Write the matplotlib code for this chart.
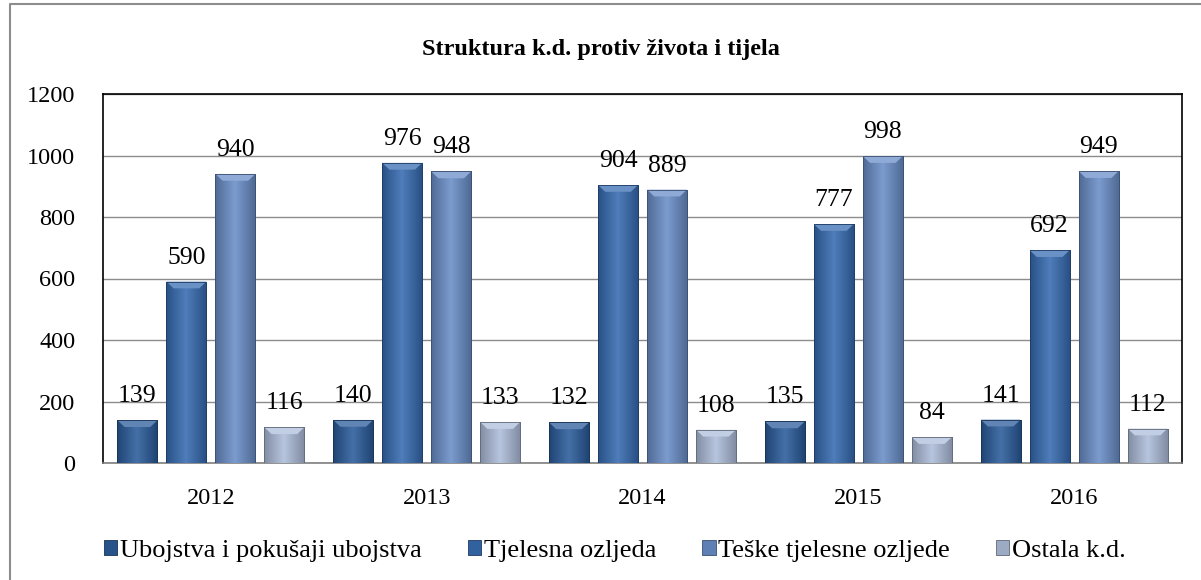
import matplotlib
matplotlib.use("Agg")
import matplotlib.pyplot as plt
import numpy as np
from matplotlib.colors import to_rgb
from matplotlib.patches import Rectangle
from matplotlib.lines import Line2D

plt.rcParams['font.family'] = ['Liberation Serif', 'DejaVu Serif']

years = ['2012', '2013', '2014', '2015', '2016']
series_names = ['Ubojstva i pokušaji ubojstva', 'Tjelesna ozljeda',
                'Teške tjelesne ozljede', 'Ostala k.d.']
ubojstva = [139, 140, 132, 135, 141]
tjelesna = [590, 976, 904, 777, 692]
teske = [940, 948, 889, 998, 949]
ostala = [116, 133, 108, 84, 112]
colors = ['#2b5c9b', '#376cb2', '#6a8ec8', '#aebdda']
yticks = [0, 200, 400, 600, 800, 1000, 1200]

fig = plt.figure(figsize=(12.01, 5.80), dpi=100)
L, R, T, B = 103, 1182, 94, 463
ax = fig.add_axes([L / 1201, 1 - B / 580, (R - L) / 1201, (B - T) / 580])

x = np.arange(len(years))
slot = 0.227
width = 0.185
all_series = [ubojstva, tjelesna, teske, ostala]

def shade(c, f):
    r = np.array(to_rgb(c))
    if f >= 0:
        return tuple(r + (1 - r) * f)
    return tuple(r * (1 + f))

for i, (vals, name, col) in enumerate(zip(all_series, series_names, colors)):
    pos = x + (i - 1.5) * slot
    bars = ax.bar(pos, vals, width, color=col, label=name, zorder=3,
                  edgecolor=shade(col, -0.35), linewidth=0.6)
    for b in bars:
        x0, y0 = b.get_x(), b.get_y()
        w, h = b.get_width(), b.get_height()
        n = 64
        t = np.linspace(0, 1, n)
        prof = 1 - np.abs(t - 0.5) * 2
        c_dark = np.array(shade(col, -0.25))
        c_light = np.array(shade(col, 0.12))
        img = c_dark[None, :] + (c_light - c_dark)[None, :] * prof[:, None]
        img = img[None, :, :]
        im = ax.imshow(img, extent=(x0, x0 + w, y0, y0 + h), aspect='auto',
                       zorder=3.5, interpolation='bilinear')
        im.set_clip_path(b)
        bev = min(h * 0.5, 22)
        tri_x = [x0, x0 + w, x0 + w * 0.82, x0 + w * 0.18]
        tri_y = [y0 + h, y0 + h, y0 + h - bev, y0 + h - bev]
        ax.fill(tri_x, tri_y, color=shade(col, 0.25), zorder=3.6, lw=0)
        ax.add_patch(Rectangle((x0, y0), w, h, fill=False,
                               edgecolor=shade(col, -0.45), lw=0.6, zorder=3.7))
        ax.annotate(str(int(h)), (x0 + w / 2, h), xytext=(0, 13),
                    textcoords='offset points', ha='center', va='baseline',
                    fontsize=18.5, zorder=5)

ax.set_xlim(-0.5, 4.5)
ax.set_ylim(0, 1200)
ax.set_yticks(yticks)
ax.set_yticklabels([str(v) for v in yticks], fontsize=17.5)
ax.set_xticks(x)
ax.set_xticklabels(years, fontsize=17.5)
ax.tick_params(axis='both', length=0)
ax.tick_params(axis='x', pad=18)
ax.tick_params(axis='y', pad=20)
ax.yaxis.grid(True, color='#8c8c8c', lw=1.0, zorder=0)
ax.set_axisbelow(True)
for s in ax.spines.values():
    s.set_color('black')
    s.set_linewidth(1.2)
ax.spines['bottom'].set_color('#7f7f7f')

fig.text(0.5, 0.914, 'Struktura k.d. protiv života i tijela', ha='center',
         va='center', fontsize=17.5, fontweight='bold')

handles = [Rectangle((0, 0), 1, 1, facecolor=shade(c, -0.1), edgecolor=shade(c, -0.45), lw=0.6)
           for c in colors]
fig.legend(handles, series_names, loc='center', bbox_to_anchor=(0.512, 0.05),
           ncol=4, frameon=False, fontsize=19, handlelength=0.5, handleheight=0.5,
           handletextpad=0.1, columnspacing=1.75)

fig.add_artist(Line2D([10 / 1201, 10 / 1201, 1.0], [0.0, 1 - 4 / 580, 1 - 4 / 580],
                      transform=fig.transFigure, color='#8c8c8c', lw=1.5))

fig.savefig('out.png', dpi=100)
